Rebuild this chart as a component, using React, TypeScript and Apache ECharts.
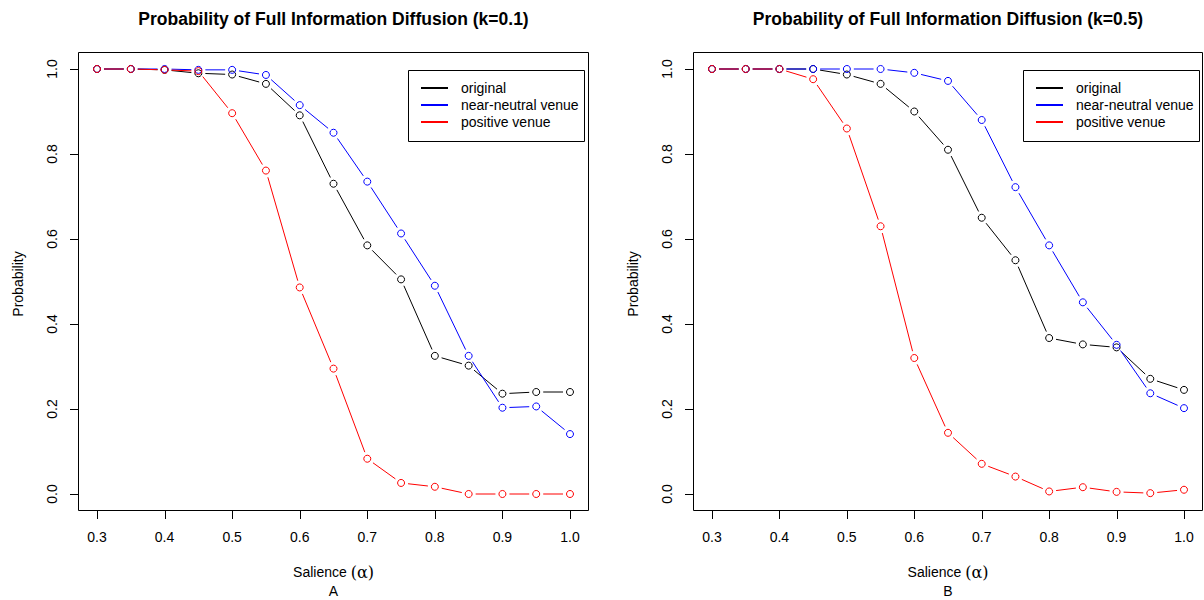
import React, { useEffect, useRef } from "react";
import * as echarts from "echarts";

const alpha = [0.3, 0.35, 0.4, 0.45, 0.5, 0.55, 0.6, 0.65, 0.7, 0.75, 0.8, 0.85, 0.9, 0.95, 1.0];

const k01Original = [1.0, 1.0, 0.998, 0.99, 0.987, 0.965, 0.891, 0.73, 0.585, 0.505, 0.325, 0.302, 0.236, 0.24, 0.24];
const k01Neutral = [1.0, 1.0, 1.0, 0.998, 0.998, 0.986, 0.915, 0.85, 0.735, 0.613, 0.49, 0.325, 0.203, 0.206, 0.141];
const k01Positive = [1.0, 1.0, 0.998, 0.995, 0.896, 0.761, 0.486, 0.295, 0.083, 0.026, 0.017, 0.0, 0.0, 0.0, 0.0];

const k05Original = [1.0, 1.0, 1.0, 1.0, 0.987, 0.965, 0.9, 0.81, 0.65, 0.55, 0.367, 0.352, 0.345, 0.271, 0.245];
const k05Neutral = [1.0, 1.0, 1.0, 1.0, 1.0, 1.0, 0.991, 0.972, 0.88, 0.722, 0.585, 0.451, 0.351, 0.237, 0.202];
const k05Positive = [1.0, 1.0, 1.0, 0.976, 0.86, 0.63, 0.32, 0.144, 0.071, 0.041, 0.006, 0.016, 0.005, 0.002, 0.01];

const xTicks = [0.3, 0.4, 0.5, 0.6, 0.7, 0.8, 0.9, 1.0];
const yTicks = [0.0, 0.2, 0.4, 0.6, 0.8, 1.0];

const seriesNames = ["original", "near-neutral venue", "positive venue"];
const seriesColors = ["#000000", "#0000ff", "#ff0000"];
const panelTitles = ["Probability of Full Information Diffusion (k=0.1)", "Probability of Full Information Diffusion (k=0.5)"];
const panelLetters = ["A", "B"];
const panelData = [
  [k01Original, k01Neutral, k01Positive],
  [k05Original, k05Neutral, k05Positive],
];

const FONT = "'Liberation Sans', Arial, Helvetica, sans-serif";

export default function App() {
  const ref = useRef<HTMLDivElement>(null);

  useEffect(() => {
    if (!ref.current) return;
    const chart = echarts.init(ref.current, undefined, { renderer: "svg" });

    // outer plot boxes (R-style frame)
    const boxes = [
      { left: 78, top: 52, width: 511, height: 459 },
      { left: 693, top: 52, width: 510, height: 459 },
    ];
    // data regions (tick range) inside the boxes
    const grids = [
      { left: 97, top: 69, width: 473, height: 425 },
      { left: 712, top: 69, width: 472, height: 425 },
    ];
    const xMin = xTicks[0];
    const xMax = xTicks[xTicks.length - 1];
    const yMin = yTicks[0];
    const yMax = yTicks[yTicks.length - 1];

    const xAxes = grids.map((g, gi) => ({
      type: "value",
      gridIndex: gi,
      position: "bottom",
      offset: boxes[gi].top + boxes[gi].height - (g.top + g.height),
      min: xMin,
      max: xMax,
      interval: 0.1,
      splitLine: { show: false },
      axisLine: { show: false, onZero: false },
      axisTick: { show: false },
      axisLabel: {
        show: true,
        margin: 19,
        fontSize: 14,
        fontFamily: FONT,
        color: "#000",
        showMinLabel: true,
        showMaxLabel: true,
        formatter: (v: number) => v.toFixed(1),
      },
    }));

    const yAxes = grids.map((g, gi) => ({
      type: "value",
      gridIndex: gi,
      position: "left",
      offset: g.left - boxes[gi].left,
      min: yMin,
      max: yMax,
      interval: 0.2,
      splitLine: { show: false },
      axisLine: { show: false, onZero: false },
      axisTick: { show: false },
      axisLabel: {
        show: true,
        rotate: 90,
        margin: 19,
        fontSize: 14,
        fontFamily: FONT,
        color: "#000",
        showMinLabel: true,
        showMaxLabel: true,
        formatter: (v: number) => v.toFixed(1),
      },
    }));

    const GAP = 7;
    const series: any[] = [];
    panelData.forEach((lines, gi) => {
      lines.forEach((vals, si) => {
        const color = seriesColors[si];
        const segs = alpha.slice(0, -1).map((x, i) => [x, vals[i], alpha[i + 1], vals[i + 1]]);
        series.push({
          type: "custom",
          name: seriesNames[si],
          xAxisIndex: gi,
          yAxisIndex: gi,
          dimensions: ["x1", "y1", "x2", "y2"],
          encode: { x: [0, 2], y: [1, 3] },
          data: segs,
          clip: false,
          renderItem: (params: any, api: any) => {
            const p1 = api.coord([api.value(0), api.value(1)]);
            const p2 = api.coord([api.value(2), api.value(3)]);
            const dx = p2[0] - p1[0];
            const dy = p2[1] - p1[1];
            const d = Math.sqrt(dx * dx + dy * dy);
            if (d <= GAP * 2) return { type: "group", children: [] };
            const ux = dx / d;
            const uy = dy / d;
            return {
              type: "line",
              shape: {
                x1: p1[0] + ux * GAP,
                y1: p1[1] + uy * GAP,
                x2: p2[0] - ux * GAP,
                y2: p2[1] - uy * GAP,
              },
              style: { stroke: color, lineWidth: 1, fill: null },
            };
          },
        });
        series.push({
          type: "scatter",
          name: seriesNames[si],
          xAxisIndex: gi,
          yAxisIndex: gi,
          data: alpha.map((x, i) => [x, vals[i]]),
          symbol: "circle",
          symbolSize: 7,
          clip: false,
          itemStyle: { color: "rgba(0,0,0,0)", borderColor: color, borderWidth: 1, opacity: 1 },
          emphasis: { disabled: true },
        });
      });
    });

    const TICK = 8;
    const graphics: any[] = [];
    boxes.forEach((b, gi) => {
      const g = grids[gi];
      const cx = b.left + b.width / 2;
      const bottom = b.top + b.height;
      graphics.push({
        type: "rect",
        shape: { x: b.left + 0.5, y: b.top + 0.5, width: b.width - 1, height: b.height - 1 },
        style: { fill: null, stroke: "#000", lineWidth: 1 },
        silent: true,
        z: 5,
      });
      // R-style outward ticks along the frame, at the axes' tick values
      xTicks.forEach((v) => {
        const x = Math.round(g.left + ((v - xMin) / (xMax - xMin)) * g.width);
        graphics.push({
          type: "rect",
          shape: { x: x, y: bottom, width: 1, height: TICK },
          style: { fill: "#000", stroke: null },
          silent: true,
          z: 6,
        });
      });
      yTicks.forEach((v) => {
        const y = Math.round(g.top + g.height - ((v - yMin) / (yMax - yMin)) * g.height);
        graphics.push({
          type: "rect",
          shape: { x: b.left - TICK, y: y, width: TICK, height: 1 },
          style: { fill: "#000", stroke: null },
          silent: true,
          z: 6,
        });
      });
      graphics.push({
        type: "text",
        x: cx,
        y: 19,
        style: {
          text: panelTitles[gi],
          fontFamily: FONT,
          fontWeight: "bold",
          fontSize: 17.5,
          fill: "#000",
          align: "center",
          verticalAlign: "middle",
        },
      });
      graphics.push({
        type: "text",
        x: cx,
        y: 572,
        style: {
          text: "Salience {a|(α)}",
          fontFamily: FONT,
          fontSize: 14,
          fill: "#000",
          align: "center",
          verticalAlign: "middle",
          rich: {
            a: { fontFamily: "'DejaVu Serif', 'Liberation Serif', serif", fontSize: 16, fill: "#000" },
          },
        },
      });
      graphics.push({
        type: "text",
        x: cx,
        y: 591,
        style: {
          text: panelLetters[gi],
          fontFamily: FONT,
          fontSize: 14,
          fill: "#000",
          align: "center",
          verticalAlign: "middle",
        },
      });
      graphics.push({
        type: "text",
        x: b.left - 60,
        y: 284,
        rotation: Math.PI / 2,
        style: {
          text: "Probability",
          fontFamily: FONT,
          fontSize: 14,
          fill: "#000",
          align: "center",
          verticalAlign: "middle",
        },
      });
      // legend
      const lx = b.left + 330;
      const ly = 70;
      graphics.push({
        type: "rect",
        shape: { x: lx + 0.5, y: ly + 0.5, width: 176, height: 71 },
        style: { fill: "#fff", stroke: "#000", lineWidth: 1 },
        z: 10,
      });
      seriesNames.forEach((nm, si) => {
        const ry = ly + 18 + si * 17;
        graphics.push({
          type: "line",
          shape: { x1: lx + 13, y1: ry, x2: lx + 40, y2: ry },
          style: { stroke: seriesColors[si], lineWidth: 2 },
          z: 11,
        });
        graphics.push({
          type: "text",
          x: lx + 53,
          y: ry,
          style: {
            text: nm,
            fontFamily: FONT,
            fontSize: 14,
            fill: "#000",
            align: "left",
            verticalAlign: "middle",
          },
          z: 11,
        });
      });
    });

    chart.setOption({
      animation: false,
      backgroundColor: "#ffffff",
      grid: grids.map((g) => ({ ...g, show: false, containLabel: false })),
      xAxis: xAxes,
      yAxis: yAxes,
      series,
      graphic: graphics,
    });

    return () => {
      chart.dispose();
    };
  }, []);

  return (
    <div
      ref={ref}
      style={{ position: "fixed", left: 0, top: 0, width: 1204, height: 600, background: "#fff" }}
    />
  );
}
